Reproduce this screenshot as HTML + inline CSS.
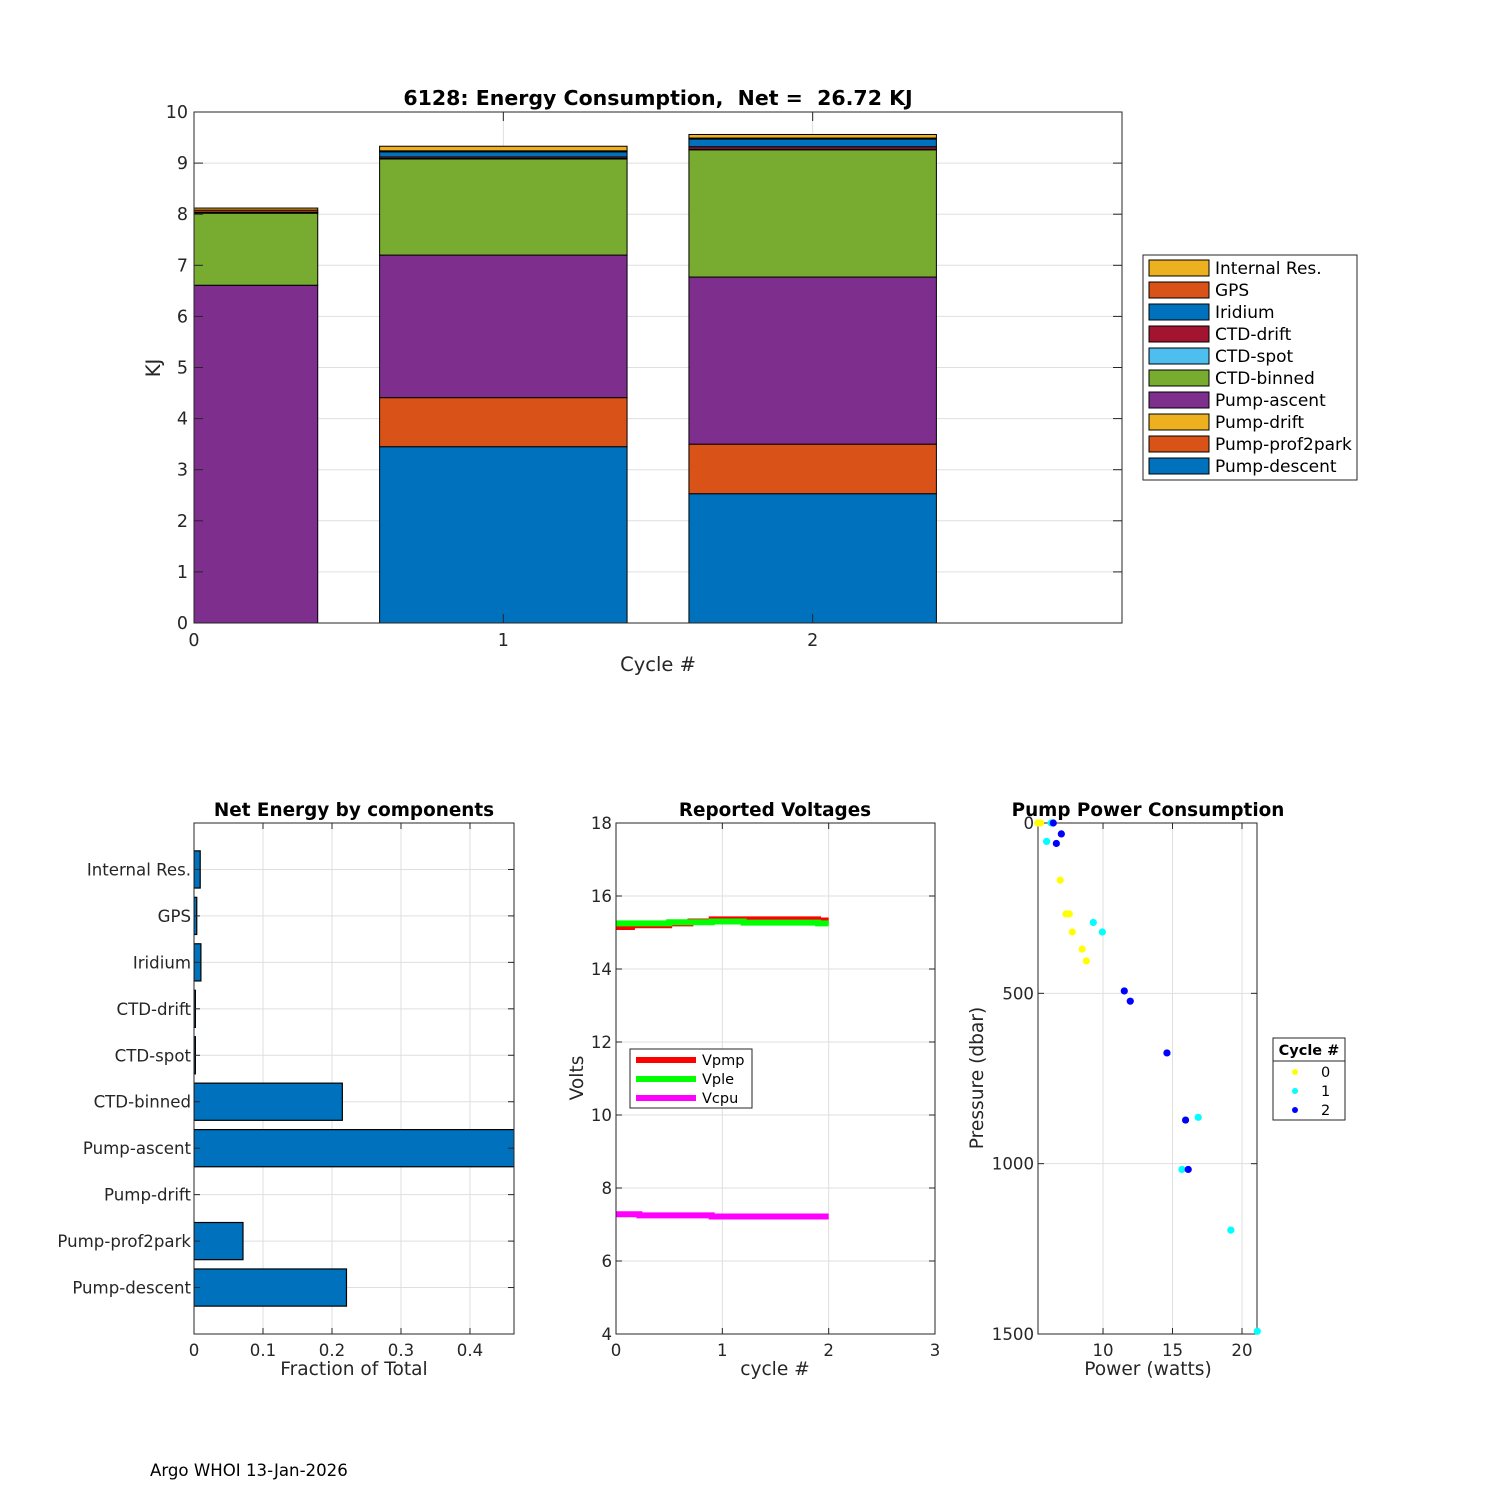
<!DOCTYPE html>
<html><head><meta charset="utf-8"><style>
html,body{margin:0;padding:0;background:#fff}
svg{display:block;font-family:"DejaVu Sans","Liberation Sans",sans-serif}
text{white-space:pre}
</style></head><body>
<svg id="fig" width="1500" height="1500" viewBox="0 0 1500 1500" xmlns="http://www.w3.org/2000/svg">
<rect width="1500" height="1500" fill="#fff"/>
<text x="150" y="1476" font-size="16.6" fill="#000">Argo WHOI 13-Jan-2026</text>
</svg>
<script>
// ---------- Top stacked bar data ----------
const cycles = [0, 1, 2];
const components = ["Pump-descent","Pump-prof2park","Pump-drift","Pump-ascent","CTD-binned","CTD-spot","CTD-drift","Iridium","GPS","Internal Res."];
const compColors = ["#0072BD","#D95319","#EDB120","#7E2F8E","#77AC30","#4DBEEE","#A2142F","#0072BD","#D95319","#EDB120"];
const pumpDescent = [0, 3.45, 2.53];
const pumpProf2park = [0, 0.96, 0.97];
const pumpDrift = [0, 0, 0];
const pumpAscent = [6.61, 2.79, 3.27];
const ctdBinned = [1.41, 1.88, 2.49];
const ctdSpot = [0.01, 0.01, 0.01];
const ctdDrift = [0.01, 0.03, 0.05];
const iridium = [0, 0.10, 0.15];
const gps = [0.04, 0.02, 0.02];
const internalRes = [0.04, 0.09, 0.07];
const topYTicks = [0,1,2,3,4,5,6,7,8,9,10];
const topXTicks = [0,1,2];
// ---------- Fraction data ----------
const fracLabels = ["Pump-descent","Pump-prof2park","Pump-drift","Pump-ascent","CTD-binned","CTD-spot","CTD-drift","Iridium","GPS","Internal Res."];
const fracValues = [0.221, 0.071, 0, 0.474, 0.215, 0.002, 0.002, 0.010, 0.004, 0.009];
const fracXTicks = [0, 0.1, 0.2, 0.3, 0.4];
// ---------- Voltage data ----------
const vpmpX = [0, 0.15, 0.5, 0.7, 0.9, 1.9, 2.0];
const vpmpV = [15.15, 15.2, 15.25, 15.3, 15.36, 15.33];
const vpleX = [0, 0.5, 0.9, 1.2, 1.9, 2.0];
const vpleV = [15.25, 15.28, 15.3, 15.27, 15.25];
const vcpuX = [0, 0.22, 0.9, 2.0];
const vcpuV = [7.28, 7.25, 7.22];
const voltYTicks = [4,6,8,10,12,14,16,18];
const voltXTicks = [0,1,2,3];
// ---------- Pump power data ----------
const pow0 = [5.3, 5.5, 6.92, 7.33, 7.57, 7.79, 8.5, 8.8];
const pres0 = [0, 0, 168, 267, 267, 320, 370, 405];
const pow1 = [6.26, 5.94, 9.3, 9.95, 16.85, 15.68, 19.2, 21.1];
const pres1 = [0, 54, 292, 320, 864, 1017, 1195, 1492];
const pow2 = [6.42, 7.0, 6.64, 11.53, 11.96, 14.6, 15.94, 16.13];
const pres2 = [0, 32, 60, 493, 523, 675, 872, 1017];
const powXTicks = [10, 15, 20];
const presYTicks = [0, 500, 1000, 1500];

const NS = "http://www.w3.org/2000/svg";
const svg = document.getElementById("fig");
function mk(tag, attrs, parent, text) {
  const e = document.createElementNS(NS, tag);
  for (const k in attrs) e.setAttribute(k, attrs[k]);
  if (text !== undefined) e.textContent = text;
  (parent || svg).appendChild(e);
  return e;
}
function lin(d0, d1, r0, r1) { return v => r0 + (v - d0) * (r1 - r0) / (d1 - d0); }
const TXT = "#262626";
const TICK = 16.6, ATITLE = 18.6, STITLE = 18.4;

// ================= TOP CHART =================
(function(){
  const L=194,R=1122,T=112,B=623;
  const x = lin(0,3,L,R), y = lin(0,10,B,T);
  const g = mk("g",{});
  
  
  mk("rect",{x:L,y:T,width:R-L,height:B-T,fill:"#fff"},g);
  topYTicks.forEach(t=>{ mk("line",{x1:L,x2:R,y1:y(t),y2:y(t),stroke:"#dfdfdf","stroke-width":1},g); });
  topXTicks.forEach(t=>{ mk("line",{x1:x(t),x2:x(t),y1:T,y2:B,stroke:"#dfdfdf","stroke-width":1},g); });
  const clip = mk("clipPath",{id:"topclip"},g);
  mk("rect",{x:L,y:T,width:R-L,height:B-T},clip);
  const series=[pumpDescent,pumpProf2park,pumpDrift,pumpAscent,ctdBinned,ctdSpot,ctdDrift,iridium,gps,internalRes];
  const bg = mk("g",{"clip-path":"url(#topclip)"},g);
  cycles.forEach((c,i)=>{
    let base=0;
    series.forEach((s,k)=>{
      const v=s[i]; if(v<=0) return;
      const r = mk("rect",{x:x(c-0.4),y:y(base+v),width:x(c+0.4)-x(c-0.4),height:y(base)-y(base+v),fill:compColors[k],stroke:"#000","stroke-width":1},bg);
      
      
      base+=v;
    });
  });
  mk("rect",{x:L,y:T,width:R-L,height:B-T,fill:"none",stroke:"#262626","stroke-width":1},g);
  topYTicks.forEach(t=>{
    mk("line",{x1:L,x2:L+9,y1:y(t),y2:y(t),stroke:TXT},g);
    mk("line",{x1:R,x2:R-9,y1:y(t),y2:y(t),stroke:TXT},g);
    const tl=mk("text",{x:L-6,y:y(t)+6,"text-anchor":"end","font-size":17.5,fill:TXT},g,String(t));
    
    
  });
  topXTicks.forEach(t=>{
    mk("line",{x1:x(t),x2:x(t),y1:B,y2:B-9,stroke:TXT},g);
    mk("line",{x1:x(t),x2:x(t),y1:T,y2:T+9,stroke:TXT},g);
    const tl=mk("text",{x:x(t),y:B+23,"text-anchor":"middle","font-size":17.5,fill:TXT},g,String(t));
    
    
  });
  const xt=mk("text",{x:658,y:671,"text-anchor":"middle","font-size":19.5,fill:TXT},g,"Cycle #");
   
  const yt=mk("text",{x:0,y:0,transform:"translate(160,368) rotate(-90)","text-anchor":"middle","font-size":19.5,fill:TXT},g,"KJ");
   
  const tt=mk("text",{x:658,y:105,"text-anchor":"middle","font-size":20.5,"font-weight":"bold",fill:"#000"},g,"6128: Energy Consumption,  Net =  26.72 KJ");
   
  // legend
  const lg=mk("g",{},g);
   
  mk("rect",{x:1143,y:255,width:214,height:225,fill:"#fff",stroke:"#262626"},lg);
  for(let k=9;k>=0;k--){
    const row=9-k, cy=268+row*22;
    const le=mk("g",{},lg);
     
    mk("rect",{x:1149,y:cy-8,width:60,height:16,fill:compColors[k],stroke:"#000"},le);
    mk("text",{x:1215,y:cy+6,"font-size":17,fill:"#000"},le,components[k]);
  }
})();

// ================= FRACTION CHART =================
(function(){
  const L=194,R=514,T=823,B=1334;
  const x=lin(0,0.4638,L,R), y=lin(0,11,B,T);
  const g=mk("g",{});
   
  fracXTicks.forEach(t=>mk("line",{x1:x(t),x2:x(t),y1:T,y2:B,stroke:"#dfdfdf"},g));
  fracLabels.forEach((l,i)=>mk("line",{x1:L,x2:R,y1:y(i+1),y2:y(i+1),stroke:"#dfdfdf"},g));
  const clip=mk("clipPath",{id:"fracclip"},g);
  mk("rect",{x:L,y:T,width:R-L,height:B-T},clip);
  const bg=mk("g",{"clip-path":"url(#fracclip)"},g);
  fracValues.forEach((v,i)=>{
    if(v<=0) return;
    const r=mk("rect",{x:x(0),y:y(i+1+0.4),width:x(v)-x(0),height:y(i+1-0.4)-y(i+1+0.4),fill:"#0072BD",stroke:"#000","stroke-width":1.2},bg);
    
    
  });
  mk("rect",{x:L,y:T,width:R-L,height:B-T,fill:"none",stroke:"#262626"},g);
  fracXTicks.forEach(t=>{
    mk("line",{x1:x(t),x2:x(t),y1:B,y2:B-6,stroke:TXT},g);
    mk("line",{x1:x(t),x2:x(t),y1:T,y2:T+6,stroke:TXT},g);
    const tl=mk("text",{x:x(t),y:B+22,"text-anchor":"middle","font-size":TICK,fill:TXT},g,String(t));
     
  });
  fracLabels.forEach((l,i)=>{
    mk("line",{x1:L,x2:L+6,y1:y(i+1),y2:y(i+1),stroke:TXT},g);
    mk("line",{x1:R,x2:R-6,y1:y(i+1),y2:y(i+1),stroke:TXT},g);
    const tl=mk("text",{x:L-3,y:y(i+1)+6,"text-anchor":"end","font-size":TICK,fill:TXT},g,l);
     
  });
  const xt=mk("text",{x:354,y:1375,"text-anchor":"middle","font-size":ATITLE,fill:TXT},g,"Fraction of Total");
   
  const tt=mk("text",{x:354,y:816,"text-anchor":"middle","font-size":STITLE,"font-weight":"bold",fill:"#000"},g,"Net Energy by components");
   
})();

// ================= VOLTAGE CHART =================
(function(){
  const L=616,R=935,T=823,B=1334;
  const x=lin(0,3,L,R), y=lin(4,18,B,T);
  const g=mk("g",{});
   
  voltXTicks.forEach(t=>mk("line",{x1:x(t),x2:x(t),y1:T,y2:B,stroke:"#dfdfdf"},g));
  voltYTicks.forEach(t=>mk("line",{x1:L,x2:R,y1:y(t),y2:y(t),stroke:"#dfdfdf"},g));
  function stairs(xs,vs,color,name){
    let d="";
    vs.forEach((v,i)=>{ d+=(i?"L":"M")+x(xs[i])+","+y(v)+"L"+x(xs[i+1])+","+y(v); });
    const p=mk("path",{d:d,fill:"none",stroke:color,"stroke-width":6},g);
     
  }
  stairs(vpmpX,vpmpV,"#ff0000","vpmp-line");
  stairs(vpleX,vpleV,"#00ff00","vple-line");
  stairs(vcpuX,vcpuV,"#ff00ff","vcpu-line");
  mk("rect",{x:L,y:T,width:R-L,height:B-T,fill:"none",stroke:"#262626"},g);
  voltXTicks.forEach(t=>{
    mk("line",{x1:x(t),x2:x(t),y1:B,y2:B-6,stroke:TXT},g);
    mk("line",{x1:x(t),x2:x(t),y1:T,y2:T+6,stroke:TXT},g);
    const tl=mk("text",{x:x(t),y:B+22,"text-anchor":"middle","font-size":TICK,fill:TXT},g,String(t));
     
  });
  voltYTicks.forEach(t=>{
    mk("line",{x1:L,x2:L+6,y1:y(t),y2:y(t),stroke:TXT},g);
    mk("line",{x1:R,x2:R-6,y1:y(t),y2:y(t),stroke:TXT},g);
    const tl=mk("text",{x:L-4,y:y(t)+6,"text-anchor":"end","font-size":TICK,fill:TXT},g,String(t));
     
  });
  const xt=mk("text",{x:775,y:1375,"text-anchor":"middle","font-size":ATITLE,fill:TXT},g,"cycle #");
   
  const yt=mk("text",{x:0,y:0,transform:"translate(583,1078) rotate(-90)","text-anchor":"middle","font-size":ATITLE,fill:TXT},g,"Volts");
   
  const tt=mk("text",{x:775,y:816,"text-anchor":"middle","font-size":STITLE,"font-weight":"bold",fill:"#000"},g,"Reported Voltages");
   
  const lg=mk("g",{},g);
   
  mk("rect",{x:630,y:1049,width:122,height:59,fill:"#fff",stroke:"#262626"},lg);
  [["Vpmp","#ff0000"],["Vple","#00ff00"],["Vcpu","#ff00ff"]].forEach((e,i)=>{
    const cy=1060+i*19;
    const le=mk("g",{},lg);
     
    mk("line",{x1:636,x2:696,y1:cy,y2:cy,stroke:e[1],"stroke-width":6},le);
    mk("text",{x:702,y:cy+5,"font-size":14.5,fill:"#000"},le,e[0]);
  });
})();

// ================= PUMP POWER CHART =================
(function(){
  const L=1038,R=1257,T=823,B=1334;
  const x=lin(5.32,21.08,L,R), y=lin(0,1500,T,B);
  const g=mk("g",{});
   
  powXTicks.forEach(t=>mk("line",{x1:x(t),x2:x(t),y1:T,y2:B,stroke:"#dfdfdf"},g));
  presYTicks.forEach(t=>mk("line",{x1:L,x2:R,y1:y(t),y2:y(t),stroke:"#dfdfdf"},g));
  mk("rect",{x:L,y:T,width:R-L,height:B-T,fill:"none",stroke:"#262626"},g);
  powXTicks.forEach(t=>{
    mk("line",{x1:x(t),x2:x(t),y1:B,y2:B-6,stroke:TXT},g);
    mk("line",{x1:x(t),x2:x(t),y1:T,y2:T+6,stroke:TXT},g);
    const tl=mk("text",{x:x(t),y:B+22,"text-anchor":"middle","font-size":TICK,fill:TXT},g,String(t));
     
  });
  presYTicks.forEach(t=>{
    mk("line",{x1:L,x2:L+6,y1:y(t),y2:y(t),stroke:TXT},g);
    mk("line",{x1:R,x2:R-6,y1:y(t),y2:y(t),stroke:TXT},g);
    const tl=mk("text",{x:L-4,y:y(t)+6,"text-anchor":"end","font-size":TICK,fill:TXT},g,String(t));
     
  });
  function pts(px,py,color,name){
    px.forEach((p,i)=>{
      const c=mk("circle",{cx:x(p),cy:y(py[i]),r:3.6,fill:color},g);
       
    });
  }
  pts(pow0,pres0,"#ffff00","point-cycle-0");
  pts(pow1,pres1,"#00ffff","point-cycle-1");
  pts(pow2,pres2,"#0000ff","point-cycle-2");
  const xt=mk("text",{x:1148,y:1375,"text-anchor":"middle","font-size":ATITLE,fill:TXT},g,"Power (watts)");
   
  const yt=mk("text",{x:0,y:0,transform:"translate(983,1078) rotate(-90)","text-anchor":"middle","font-size":ATITLE,fill:TXT},g,"Pressure (dbar)");
   
  const tt=mk("text",{x:1148,y:816,"text-anchor":"middle","font-size":STITLE,"font-weight":"bold",fill:"#000"},g,"Pump Power Consumption");
   
  const lg=mk("g",{},g);
   
  mk("rect",{x:1273,y:1038,width:72,height:82,fill:"#fff",stroke:"#262626"},lg);
  mk("line",{x1:1273,x2:1345,y1:1061,y2:1061,stroke:"#262626"},lg);
  mk("text",{x:1309,y:1055,"text-anchor":"middle","font-size":14.5,"font-weight":"bold",fill:"#000"},lg,"Cycle #");
  [["0","#ffff00"],["1","#00ffff"],["2","#0000ff"]].forEach((e,i)=>{
    const cy=1072+i*19;
    const le=mk("g",{},lg);
     
    mk("circle",{cx:1295,cy:cy,r:3,fill:e[1]},le);
    mk("text",{x:1321,y:cy+5,"font-size":14.5,fill:"#000"},le,e[0]);
  });
})();
</script>
</body></html>
